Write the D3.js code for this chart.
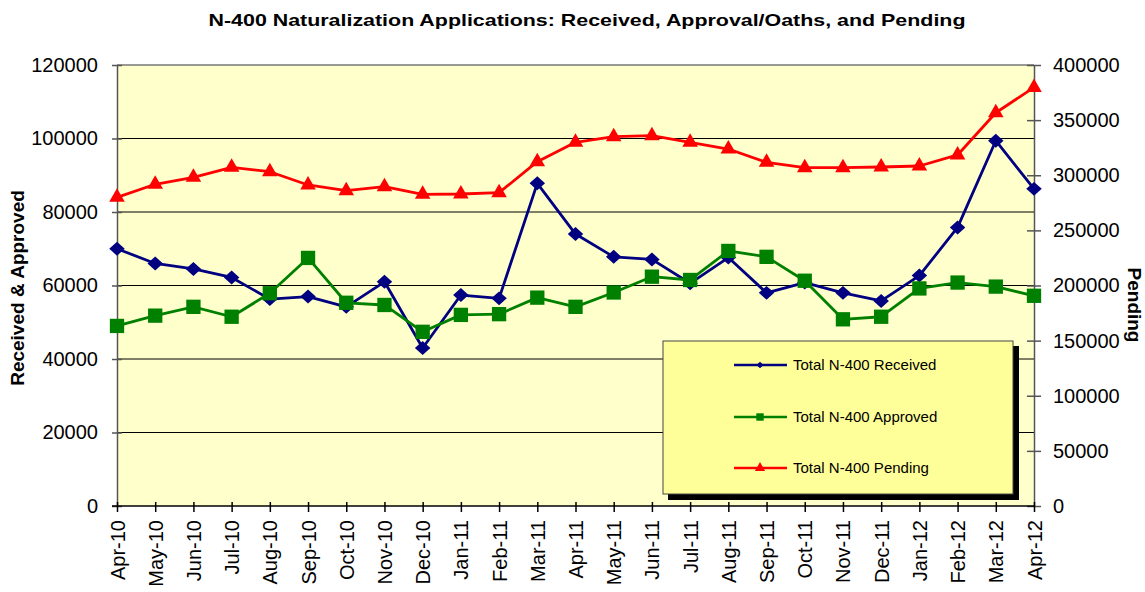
<!DOCTYPE html>
<html lang="en">
<head>
<meta charset="UTF-8">
<title>N-400 Naturalization Applications</title>
<script src="https://d3js.org/d3.v7.min.js"></script>
<style>
  body { margin: 0; background: #fff; }
  text { font-family: Arial, "Liberation Sans", sans-serif; fill: #000; }
</style>
</head>
<body>
<svg id="chart" width="1145" height="592"></svg>
<script>
// chart data
const months = ['Apr-10','May-10','Jun-10','Jul-10','Aug-10','Sep-10','Oct-10','Nov-10','Dec-10',
  'Jan-11','Feb-11','Mar-11','Apr-11','May-11','Jun-11','Jul-11','Aug-11','Sep-11','Oct-11',
  'Nov-11','Dec-11','Jan-12','Feb-12','Mar-12','Apr-12'];
const received = [70000, 66000, 64500, 62200, 56300, 57000, 54200, 61000, 43000,
  57400, 56500, 87800, 74000, 67800, 67100, 60600, 67600, 58000, 60800,
  58000, 55800, 62700, 75800, 99400, 86300];
const approved = [49000, 51800, 54200, 51500, 57900, 67500, 55300, 54700, 47400,
  52000, 52200, 56700, 54200, 58100, 62400, 61500, 69400, 67800, 61300,
  50800, 51500, 59200, 60800, 59700, 57200];
const pending = [280000, 291800, 298100, 307200, 303200, 291200, 286000, 289600, 282700,
  283000, 284200, 312300, 329900, 335000, 335900, 329900, 323800, 311700, 306900,
  306900, 307500, 308400, 318400, 356700, 379700];
const leftTicks = [0, 20000, 40000, 60000, 80000, 100000, 120000];
const rightTicks = [0, 50000, 100000, 150000, 200000, 250000, 300000, 350000, 400000];
const seriesNames = ['Total N-400 Received', 'Total N-400 Approved', 'Total N-400 Pending'];

const svg = d3.select('#chart');
const plot = { left: 117, right: 1034, top: 65, bottom: 506 };

const x = d3.scalePoint().domain(months).range([plot.left, plot.right]);
const yL = d3.scaleLinear().domain([0, 120000]).range([plot.bottom, plot.top]);
const yR = d3.scaleLinear().domain([0, 400000]).range([plot.bottom, plot.top]);

// Excel-style diamond: a square turned 45 degrees, slightly flattened
const wideDiamond = {
  draw(context, size) {
    const w = Math.sqrt(size) / 2;
    const h = w * 0.9;
    context.moveTo(0, -h);
    context.lineTo(w, 0);
    context.lineTo(0, h);
    context.lineTo(-w, 0);
    context.closePath();
  }
};

// title
svg.append('text')
  .attr('x', 587).attr('y', 26)
  .attr('text-anchor', 'middle')
  .attr('font-size', 17).attr('font-weight', 'bold')
  .attr('textLength', 757).attr('lengthAdjust', 'spacingAndGlyphs')
  .text('N-400 Naturalization Applications: Received, Approval/Oaths, and Pending');

// plot background
svg.append('rect')
  .attr('x', plot.left).attr('y', plot.top)
  .attr('width', plot.right - plot.left).attr('height', plot.bottom - plot.top)
  .attr('fill', '#ffffcc');

// gridlines
svg.append('g').selectAll('line')
  .data(leftTicks.filter(d => d > 0 && d < 120000))
  .enter().append('line')
  .attr('x1', plot.left).attr('x2', plot.right)
  .attr('y1', d => yL(d)).attr('y2', d => yL(d))
  .attr('stroke', '#000').attr('stroke-width', 1.2);

// top border
svg.append('line')
  .attr('x1', plot.left).attr('x2', plot.right)
  .attr('y1', plot.top).attr('y2', plot.top)
  .attr('stroke', '#777').attr('stroke-width', 1.5);

// axes
const axisStyle = (g, color) => {
  g.select('.domain').attr('stroke', color).attr('stroke-width', 1.5);
  g.selectAll('.tick line').attr('stroke', color).attr('stroke-width', 1.5);
  g.selectAll('.tick text').attr('font-size', 20).attr('fill', '#000')
    .style('font-family', 'Arial, "Liberation Sans", sans-serif');
};

const gLeft = svg.append('g')
  .attr('transform', `translate(${plot.left},0)`)
  .call(d3.axisLeft(yL).tickValues(leftTicks).tickFormat(d3.format('d'))
    .tickSizeInner(5).tickSizeOuter(0).tickPadding(14));
axisStyle(gLeft, '#555');
gLeft.selectAll('.tick line').attr('x1', -5).attr('x2', 5);

const gRight = svg.append('g')
  .attr('transform', `translate(${plot.right},0)`)
  .call(d3.axisRight(yR).tickValues(rightTicks).tickFormat(d3.format('d'))
    .tickSizeInner(7).tickSizeOuter(0).tickPadding(12));
axisStyle(gRight, '#555');
gRight.selectAll('.tick line').attr('x1', -7).attr('x2', 7);

const gBottom = svg.append('g')
  .attr('transform', `translate(0,${plot.bottom})`)
  .call(d3.axisBottom(x).tickSizeInner(6).tickSizeOuter(0));
axisStyle(gBottom, '#000');
gBottom.select('.domain').attr('d', `M${plot.left - 5},0H${plot.right}`);
gBottom.selectAll('.tick line').attr('y1', -4).attr('y2', 6);
gBottom.selectAll('.tick text')
  .attr('transform', 'rotate(-90)')
  .attr('text-anchor', 'end')
  .attr('x', -14).attr('y', 0).attr('dy', '0.35em');

// axis titles
svg.append('text')
  .attr('transform', 'translate(24,288) rotate(-90)')
  .attr('text-anchor', 'middle')
  .attr('font-size', 19).attr('font-weight', 'bold')
  .text('Received & Approved');
svg.append('text')
  .attr('transform', 'translate(1128,305) rotate(90)')
  .attr('text-anchor', 'middle')
  .attr('font-size', 19).attr('font-weight', 'bold')
  .text('Pending');

// series
const series = [
  { values: received, scale: yL, color: '#000080', shape: wideDiamond, size: 240 },
  { values: approved, scale: yL, color: '#008000', shape: d3.symbolSquare, size: 205 },
  { values: pending, scale: yR, color: '#ff0000', shape: d3.symbolTriangle, size: 105 }
];

series.forEach(s => {
  const line = d3.line().x((d, i) => x(months[i])).y(d => s.scale(d));
  svg.append('path')
    .datum(s.values)
    .attr('d', line)
    .attr('fill', 'none')
    .attr('stroke', s.color)
    .attr('stroke-width', 2.8)
    .attr('stroke-linejoin', 'round');
  svg.append('g').selectAll('path')
    .data(s.values)
    .enter().append('path')
    .attr('d', d3.symbol().type(s.shape).size(s.size))
    .attr('transform', (d, i) => `translate(${x(months[i])},${s.scale(d)})`)
    .attr('fill', s.color);
});

// legend
const legend = svg.append('g');
legend.append('rect')
  .attr('x', 668).attr('y', 346).attr('width', 351).attr('height', 154)
  .attr('fill', '#000');
legend.append('rect')
  .attr('x', 663).attr('y', 341).attr('width', 350).attr('height', 153)
  .attr('fill', '#ffff99').attr('stroke', '#444').attr('stroke-width', 1);

const legendRows = [365, 417, 468];
const legendMarks = [
  { shape: wideDiamond, size: 50 },
  { shape: d3.symbolSquare, size: 55 },
  { shape: d3.symbolTriangle, size: 45 }
];
seriesNames.forEach((name, i) => {
  const yy = legendRows[i];
  legend.append('line')
    .attr('x1', 734).attr('x2', 787).attr('y1', yy).attr('y2', yy)
    .attr('stroke', series[i].color).attr('stroke-width', 2.5);
  legend.append('path')
    .attr('d', d3.symbol().type(legendMarks[i].shape).size(legendMarks[i].size))
    .attr('transform', `translate(760,${yy})`)
    .attr('fill', series[i].color);
  legend.append('text')
    .attr('x', 793).attr('y', yy).attr('dy', '0.35em')
    .attr('font-size', 15)
    .text(name);
});
</script>
</body>
</html>
